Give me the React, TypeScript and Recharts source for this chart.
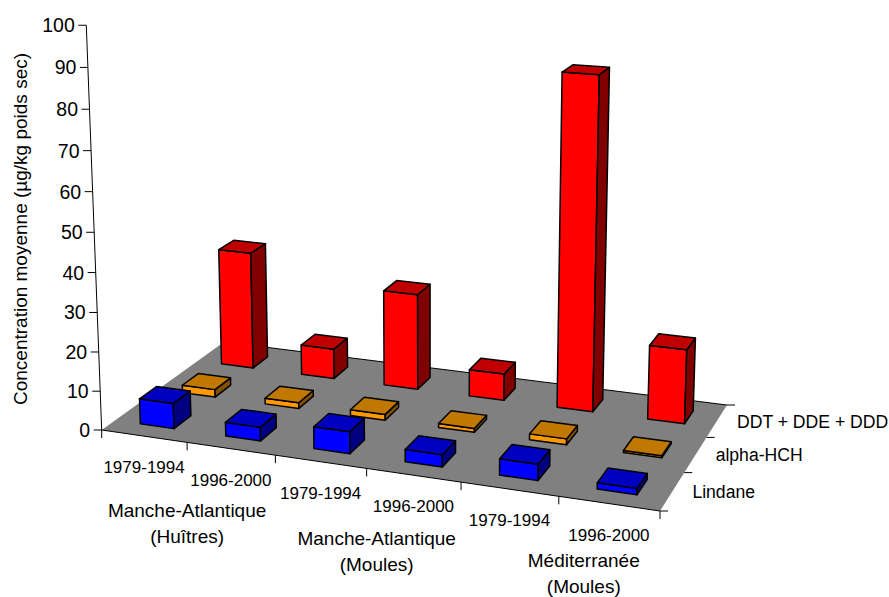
import React from 'react';
import { BarChart, Bar, XAxis, YAxis } from 'recharts';

const periods = ['1979-1994', '1996-2000', '1979-1994', '1996-2000', '1979-1994', '1996-2000'];
const groups = ['Manche-Atlantique|(Huîtres)', 'Manche-Atlantique|(Moules)', 'Méditerranée|(Moules)'];
const seriesNames = ['Lindane', 'alpha-HCH', 'DDT + DDE + DDD'];
const lindane = [6.5, 3.5, 5.5, 3, 4, 1.5];
const alphaHch = [2, 1.5, 1.5, 1, 1.5, 0.5];
const ddt = [31.5, 8, 25.3, 7, 85.3, 19];
const valueTicks = [0, 10, 20, 30, 40, 50, 60, 70, 80, 90, 100];

const WIDTH = 889;
const HEIGHT = 597;
// the visible axes take one pixel each, so the plot area starts at x = 1
const AXIS_SIZE = 1;
const FONT = 'Liberation Sans, Arial, sans-serif';

const chartData = periods.map((period, i) => ({
    period,
    lindane: lindane[i],
    alphaHch: alphaHch[i],
    ddt: ddt[i],
}));

// camera: floor corners (front-left, front-right, back-right, back-left) and the
// vanishing point of the vertical direction
const floorCorners = [[101.7, 430], [660, 511], [727, 405], [224, 342]];
const verticalVp = [428, 9000];
const verticalWeight = -0.0451;

const makeCamera = () => {
    const [[x0, y0], [x1, y1], [x2, y2], [x3, y3]] = floorCorners;
    const sx = x0 - x1 + x2 - x3;
    const sy = y0 - y1 + y2 - y3;
    const dx1 = x1 - x2;
    const dx2 = x3 - x2;
    const dy1 = y1 - y2;
    const dy2 = y3 - y2;
    const det = dx1 * dy2 - dx2 * dy1;
    const g = (sx * dy2 - dx2 * sy) / det;
    const h = (dx1 * sy - sx * dy1) / det;
    return {
        a: x1 - x0 + g * x1,
        b: x3 - x0 + h * x3,
        c: x0,
        d: y1 - y0 + g * y1,
        e: y3 - y0 + h * y3,
        f: y0,
        g,
        h,
    };
};
const cam = makeCamera();

// u: along the periods, d: towards the back row, k: height (all 0..1)
const project = (u: number, d: number, k: number) => {
    const l = k * verticalWeight;
    const w = cam.g * u + cam.h * d + 1 + l;
    return [
        (cam.a * u + cam.b * d + cam.c + l * verticalVp[0]) / w,
        (cam.d * u + cam.e * d + cam.f + l * verticalVp[1]) / w,
    ];
};

const toU = (px: number) => (px - AXIS_SIZE) / WIDTH;
const toK = (py: number) => (HEIGHT - py) / HEIGHT;

const pts = (list: number[][]) => list.map(p => `${p[0].toFixed(2)},${p[1].toFixed(2)}`).join(' ');

const Box3D = (props: any, row: number, front: string, top: string, side: string) => {
    const { x, y, width, height } = props;
    const u0 = toU(x);
    const u1 = toU(x + width);
    const d0 = (row + 0.3) / 3;
    const d1 = (row + 0.7) / 3;
    const k = toK(y);
    if (!(height > 0)) return <g />;
    const common = { stroke: '#000', strokeWidth: 1.5, strokeLinejoin: 'round' as const };
    return (
        <g>
            <polygon
                points={pts([project(u0, d0, 0), project(u1, d0, 0), project(u1, d0, k), project(u0, d0, k)])}
                fill={front}
                {...common}
            />
            <polygon
                points={pts([project(u1, d0, 0), project(u1, d1, 0), project(u1, d1, k), project(u1, d0, k)])}
                fill={side}
                {...common}
            />
            <polygon
                points={pts([project(u0, d0, k), project(u1, d0, k), project(u1, d1, k), project(u0, d1, k)])}
                fill={top}
                {...common}
            />
        </g>
    );
};

const FloorPlane = () => {
    const fl = project(0, 0, 0);
    const fr = project(1, 0, 0);
    const br = project(1, 1, 0);
    const bl = project(0, 1, 0);
    const top = project(0, 0, 1);
    return (
        <g fontFamily={FONT} fill="#000">
            <polygon points={pts([fl, fr, br, bl])} fill="#808080" />
            <line x1={fl[0]} y1={fl[1]} x2={fr[0]} y2={fr[1]} stroke="#000" />
            <line x1={bl[0]} y1={bl[1]} x2={br[0]} y2={br[1]} stroke="#000" />
            <line x1={fl[0]} y1={fl[1]} x2={top[0]} y2={top[1]} stroke="#000" />
            {[0, 1, 2, 3, 4, 5, 6].map(i => {
                const p = project(i / 6, 0, 0);
                return <line key={i} x1={p[0]} y1={p[1]} x2={p[0]} y2={p[1] + 8} stroke="#000" />;
            })}
            {[0, 1, 2, 3].map(i => {
                const p = project(1, i / 3, 0);
                return <line key={i} x1={p[0]} y1={p[1]} x2={p[0] + 8} y2={p[1]} stroke="#000" />;
            })}
            {seriesNames.map((name, i) => {
                const p = project(1, (i + 0.5) / 3, 0);
                return (
                    <text key={name} x={p[0] + 20} y={p[1] + 2} fontSize={17.6} dominantBaseline="middle">
                        {name}
                    </text>
                );
            })}
            {groups.map((g, i) => {
                const p = project((2 * i + 1) / 6, 0, 0);
                const [line1, line2] = g.split('|');
                const dx = [0, 10, 25][i];
                const baseY = [511, 539, 561][i];
                return (
                    <text key={i} textAnchor="middle" fontSize={19}>
                        <tspan x={p[0] + dx} y={baseY + 6}>{line1}</tspan>
                        <tspan x={p[0] + dx} y={baseY + 32}>{line2}</tspan>
                    </text>
                );
            })}
            <text transform="translate(27,229) rotate(-90)" textAnchor="middle" fontSize={19}>
                Concentration moyenne (µg/kg poids sec)
            </text>
        </g>
    );
};

const ValueTick = (props: any) => {
    const p = project(0, 0, toK(props.y));
    return (
        <g>
            <line x1={p[0] - 8} y1={p[1]} x2={p[0]} y2={p[1]} stroke="#000" />
            <text x={p[0] - 11.5} y={p[1] + 7} textAnchor="end" fontSize={19.5} fontFamily={FONT} fill="#000">
                {props.payload.value}
            </text>
        </g>
    );
};

const PeriodTick = (props: any) => {
    const p = project(toU(props.x), 0, 0);
    return (
        <text x={p[0]} y={p[1] + 37} textAnchor="middle" fontSize={17} fontFamily={FONT} fill="#000">
            {props.payload.value}
        </text>
    );
};

export default function App() {
    return (
        <div style={{ position: 'absolute', left: 0, top: 0, width: WIDTH + AXIS_SIZE, height: HEIGHT + AXIS_SIZE }}>
            <BarChart
                width={WIDTH + AXIS_SIZE}
                height={HEIGHT + AXIS_SIZE}
                data={chartData}
                margin={{ top: 0, right: 0, bottom: 0, left: 0 }}
                barCategoryGap="30%"
            >
                <FloorPlane />
                <XAxis
                    xAxisId="front"
                    dataKey="period"
                    height={AXIS_SIZE}
                    axisLine={false}
                    tickLine={false}
                    interval={0}
                    tick={(p: any) => <PeriodTick {...p} />}
                />
                <XAxis xAxisId="middle" dataKey="period" hide />
                <XAxis xAxisId="back" dataKey="period" hide />
                <YAxis
                    domain={[0, 100]}
                    ticks={valueTicks}
                    width={AXIS_SIZE}
                    axisLine={false}
                    tickLine={false}
                    interval={0}
                    tick={(p: any) => <ValueTick {...p} />}
                />
                <Bar
                    xAxisId="back"
                    dataKey="ddt"
                    name={seriesNames[2]}
                    isAnimationActive={false}
                    shape={(p: any) => Box3D(p, 2, '#FF0000', '#C00000', '#800000')}
                />
                <Bar
                    xAxisId="middle"
                    dataKey="alphaHch"
                    name={seriesNames[1]}
                    isAnimationActive={false}
                    shape={(p: any) => Box3D(p, 1, '#FF9900', '#C07800', '#805000')}
                />
                <Bar
                    xAxisId="front"
                    dataKey="lindane"
                    name={seriesNames[0]}
                    isAnimationActive={false}
                    shape={(p: any) => Box3D(p, 0, '#0000FF', '#0000C0', '#000080')}
                />
            </BarChart>
        </div>
    );
}
